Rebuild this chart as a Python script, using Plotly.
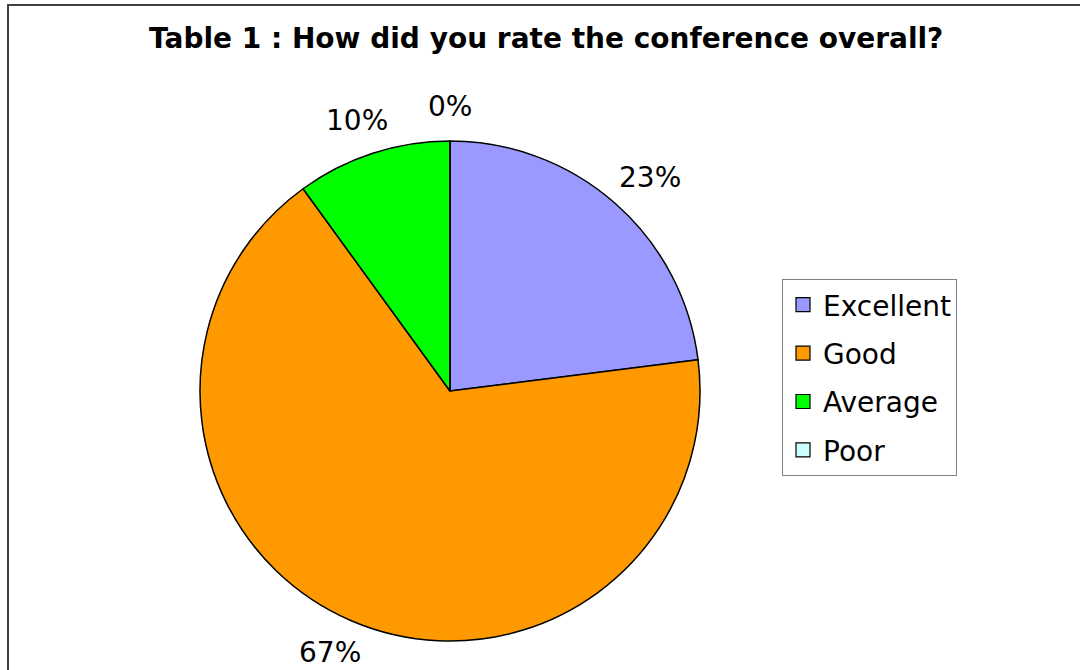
import math
import plotly.graph_objects as go

categories = ["Excellent", "Good", "Average", "Poor"]
values = [23, 67, 10, 0]
colors = ["#9999FF", "#FF9900", "#00FF00", "#CCFFFF"]
title_text = "Table 1 : How did you rate the conference overall?"

W, H = 1080, 670
CX, CY, R = 450, 391, 250  # pie centre / radius in pixels
FONT = "DejaVu Sans, Verdana, sans-serif"
LBL = 28

fig = go.Figure()
fig.add_trace(go.Pie(
    labels=categories, values=values, sort=False, direction="clockwise",
    rotation=0, textinfo="none", hoverinfo="label+percent",
    marker=dict(colors=colors, line=dict(color="black", width=1.5)),
    domain=dict(x=[(CX - R) / W, (CX + R) / W], y=[(H - CY - R) / H, (H - CY + R) / H]),
    showlegend=False,
))

# legend entries (separate groups so the row spacing can be set)
for c, col in zip(categories, colors):
    fig.add_trace(go.Scatter(
        x=[None], y=[None], mode="markers", name=c, legendgroup=c,
        marker=dict(symbol="square", size=14, color=col, line=dict(color="black", width=1.2)),
    ))

# percentage labels placed outside the pie from the cumulative values
total = sum(values)
cum = 0
annotations = []
for v in values:
    mid = (cum + v / 2) / total * 2 * math.pi
    cum += v
    s, c = math.sin(mid), math.cos(mid)
    txt = f"{round(v / total * 100)}%"
    w = len(txt) * 0.72 * LBL
    h = LBL * 0.9
    ax = CX + (R + 22) * s + (w / 2) * s
    ay = CY - (R + 22) * c - (h / 2) * c
    annotations.append(dict(
        x=ax / W, y=1 - ay / H, xref="paper", yref="paper", text=txt, showarrow=False,
        xanchor="center", yanchor="middle", font=dict(family=FONT, size=LBL, color="black"),
    ))

annotations.append(dict(
    x=546 / W, y=1 - 38 / H, xref="paper", yref="paper", text=f"<b>{title_text}</b>",
    showarrow=False, xanchor="center", yanchor="middle",
    font=dict(family=FONT, size=28, color="black"),
))

fig.update_layout(
    width=W, height=H, margin=dict(l=0, r=0, t=0, b=0),
    paper_bgcolor="white", plot_bgcolor="white",
    xaxis=dict(visible=False), yaxis=dict(visible=False),
    annotations=annotations,
    legend=dict(
        x=782 / W, y=1 - 279 / H, xanchor="left", yanchor="top",
        bordercolor="#808080", borderwidth=1, bgcolor="white",
        font=dict(family=FONT, size=28, color="black"),
        tracegroupgap=9, itemclick=False, itemdoubleclick=False,
    ),
    shapes=[dict(type="rect", xref="paper", yref="paper",
                 x0=8 / W, x1=1.02, y0=-0.02, y1=1 - 5 / H,
                 line=dict(color="#404040", width=2))],
)

fig.write_html("out.html", config={"displayModeBar": False},
               post_script="document.body.style.margin='0';document.body.style.overflow='hidden';")
